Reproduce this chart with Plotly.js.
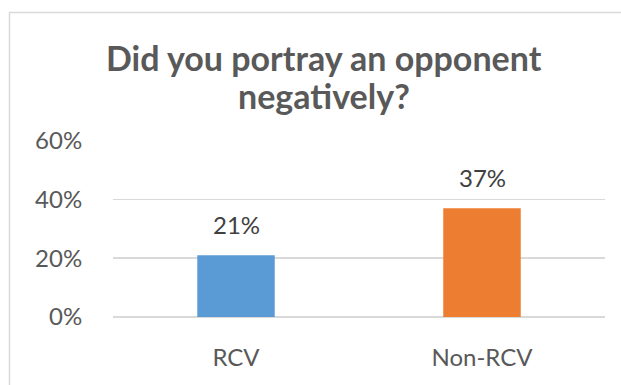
<!DOCTYPE html>
<html><head><meta charset="utf-8">
<script src="https://cdn.plot.ly/plotly-3.0.1.min.js"></script>
<style>html,body{margin:0;padding:0;background:#fff;}#chart{width:621px;height:385px;}</style>
</head><body><div id="chart"></div>
<script>
const categories = ["RCV", "Non-RCV"];
const values = [0.21, 0.37];
const barColors = ["#5B9BD5", "#ED7D31"];
const tickValues = [0, 0.2, 0.4, 0.6];
const tickLabels = ["0%", "20%", "40%", "60%"];
const titleLines = ["Did you portray an opponent", "negatively?"];

const FONT = "Lato, 'Open Sans', sans-serif";
const L = 113, R = 16, T = 140, B = 68;
const PW = 621 - L - R, PH = 385 - T - B;
const trace = {
  type: "bar", x: categories, y: values,
  marker: {color: barColors},
  hoverinfo: "skip"
};
const annotations = categories.map((c, i) => ({
  x: c, y: values[i], xref: "x", yref: "y",
  text: Math.round(values[i] * 100) + "%",
  showarrow: false, yanchor: "bottom", yshift: 14,
  font: {family: FONT, size: 24, color: "#404040"}
}));
const titleCenters = [57, 95];
titleLines.forEach((t, i) => annotations.push({
  xref: "paper", yref: "paper",
  x: (324 - L) / PW, y: (317 - titleCenters[i]) / PH,
  xanchor: "center", yanchor: "middle",
  text: "<b>" + t + "</b>", showarrow: false,
  font: {family: FONT, size: 34, color: "#595959"}
}));
const layout = {
  width: 621, height: 385,
  margin: {l: L, r: R, t: T, b: B},
  paper_bgcolor: "#fff", plot_bgcolor: "#fff",
  showlegend: false, bargap: 0.685,
  xaxis: {
    showgrid: false, showline: false, zeroline: false,
    ticks: "outside", ticklen: 19, tickcolor: "rgba(0,0,0,0)",
    tickfont: {family: FONT, size: 24, color: "#595959"}
  },
  yaxis: {
    range: [0, 0.602], tickvals: tickValues, ticktext: tickLabels,
    showgrid: true, gridcolor: "#d9d9d9", gridwidth: 1.5,
    zeroline: true, zerolinecolor: "#d9d9d9", zerolinewidth: 1.5,
    showline: false,
    ticks: "outside", ticklen: 25, tickcolor: "rgba(0,0,0,0)",
    tickfont: {family: FONT, size: 24, color: "#595959"}
  },
  annotations: annotations,
  shapes: [{
    type: "rect", xref: "paper", yref: "paper",
    x0: (9.5 - L) / PW, x1: 1.2, y0: -1, y1: (317 - 12.5) / PH,
    line: {color: "#d9d9d9", width: 1.5}, fillcolor: "rgba(0,0,0,0)", layer: "below"
  }]
};
Plotly.newPlot("chart", [trace], layout, {displayModeBar: false, staticPlot: true});
</script></body></html>
